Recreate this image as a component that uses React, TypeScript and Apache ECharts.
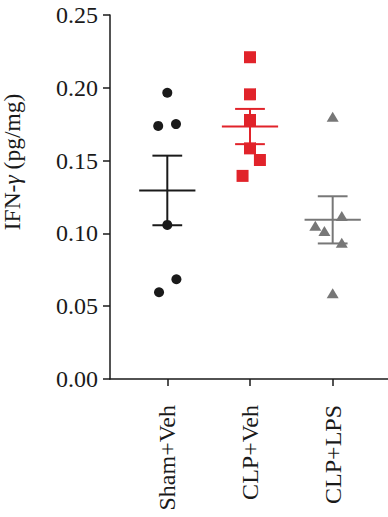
import React, { useEffect, useRef } from "react";
import * as echarts from "echarts";

const categories = ["Sham+Veh", "CLP+Veh", "CLP+LPS"];
const groupPos = [1, 2, 3];

const shamX = [1.0, 0.89, 1.105, 1.0, 1.11, 0.9];
const shamY = [0.1966, 0.1738, 0.1751, 0.1058, 0.0685, 0.0596];
const clpVehX = [2.0, 2.0, 2.0, 2.0, 2.12, 1.91];
const clpVehY = [0.221, 0.1955, 0.1779, 0.1584, 0.1504, 0.1395];
const clpLpsX = [3.0, 3.11, 2.79, 2.9, 3.11, 3.0];
const clpLpsY = [0.1802, 0.112, 0.1053, 0.1017, 0.0936, 0.0589];

const means = [0.1295, 0.1734, 0.1093];
const sems = [0.0239, 0.0121, 0.0162];

const colors = ["#1a1a1a", "#e1232a", "#777777"];
const symbols = ["circle", "rect", "triangle"];
const symbolSizes: any[] = [10, 12, [12, 10]];

const FONT = "'Liberation Serif', 'DejaVu Serif', serif";

export default function App() {
  const ref = useRef<HTMLDivElement>(null);
  useEffect(() => {
    document.body.style.margin = "0";
    const chart = echarts.init(ref.current!, undefined, { renderer: "svg" });
    const xs = [shamX, clpVehX, clpLpsX];
    const ys = [shamY, clpVehY, clpLpsY];
    const scatterSeries = xs.map((xArr, g) => ({
      type: "scatter",
      name: categories[g],
      data: xArr.map((x, i) => [x, ys[g][i]]),
      symbol: symbols[g],
      symbolSize: symbolSizes[g],
      itemStyle: { color: colors[g], opacity: 1 },
      z: 5,
    }));
    const option: any = {
      animation: false,
      grid: { left: 110, top: 15, right: 0, bottom: 138 },
      xAxis: {
        type: "value",
        min: 0.307,
        max: 3.669,
        splitLine: { show: false },
        axisLine: { show: true, onZero: false, lineStyle: { color: "#1a1a1a", width: 1.5 } },
        axisTick: {
          show: true,
          customValues: groupPos,
          length: 7,
          lineStyle: { color: "#1a1a1a", width: 1.5 },
        },
        axisLabel: {
          show: true,
          customValues: groupPos,
          rotate: 90,
          margin: 26,
          fontFamily: FONT,
          fontSize: 24,
          color: "#1a1a1a",
          formatter: (v: number) => categories[Math.round(v) - 1] ?? "",
        },
      },
      yAxis: {
        type: "value",
        min: 0,
        max: 0.25,
        interval: 0.05,
        splitLine: { show: false },
        axisLine: { show: true, lineStyle: { color: "#1a1a1a", width: 1.5 } },
        axisTick: { show: true, length: 7, lineStyle: { color: "#1a1a1a", width: 1.5 } },
        axisLabel: {
          margin: 12,
          fontFamily: FONT,
          fontSize: 24,
          color: "#1a1a1a",
          formatter: (v: number) => v.toFixed(2),
        },
      },
      graphic: [
        {
          type: "text",
          x: 12,
          y: 162,
          rotation: Math.PI / 2,
          style: {
            text: "{a|IFN-}{b|γ}{a| (pg/mg)}",
            align: "center",
            verticalAlign: "middle",
            rich: {
              a: { fontFamily: FONT, fontSize: 23.5, fill: "#1a1a1a" },
              b: { fontFamily: FONT, fontSize: 23.5, fontStyle: "italic", fill: "#1a1a1a" },
            },
          },
        },
      ],
      series: [
        {
          type: "custom",
          clip: false,
          z: 3,
          encode: { x: 0, y: 1 },
          data: groupPos.map((p, g) => [p, means[g], sems[g], g]),
          renderItem: (params: any, api: any) => {
            const x = api.value(0);
            const m = api.value(1);
            const s = api.value(2);
            const g = api.value(3);
            const c = api.coord([x, m]);
            const top = api.coord([x, m + s]);
            const bot = api.coord([x, m - s]);
            const half = api.size([0.34, 0])[0];
            const cap = api.size([0.18, 0])[0];
            const st = { stroke: colors[g], lineWidth: 2 };
            return {
              type: "group",
              children: [
                { type: "line", shape: { x1: c[0] - half, y1: c[1], x2: c[0] + half, y2: c[1] }, style: st },
                { type: "line", shape: { x1: c[0], y1: top[1], x2: c[0], y2: bot[1] }, style: st },
                { type: "line", shape: { x1: c[0] - cap, y1: top[1], x2: c[0] + cap, y2: top[1] }, style: st },
                { type: "line", shape: { x1: c[0] - cap, y1: bot[1], x2: c[0] + cap, y2: bot[1] }, style: st },
              ],
            };
          },
        },
        ...scatterSeries,
      ],
    };
    chart.setOption(option);
    return () => chart.dispose();
  }, []);
  return <div ref={ref} style={{ width: 388, height: 517 }} />;
}
